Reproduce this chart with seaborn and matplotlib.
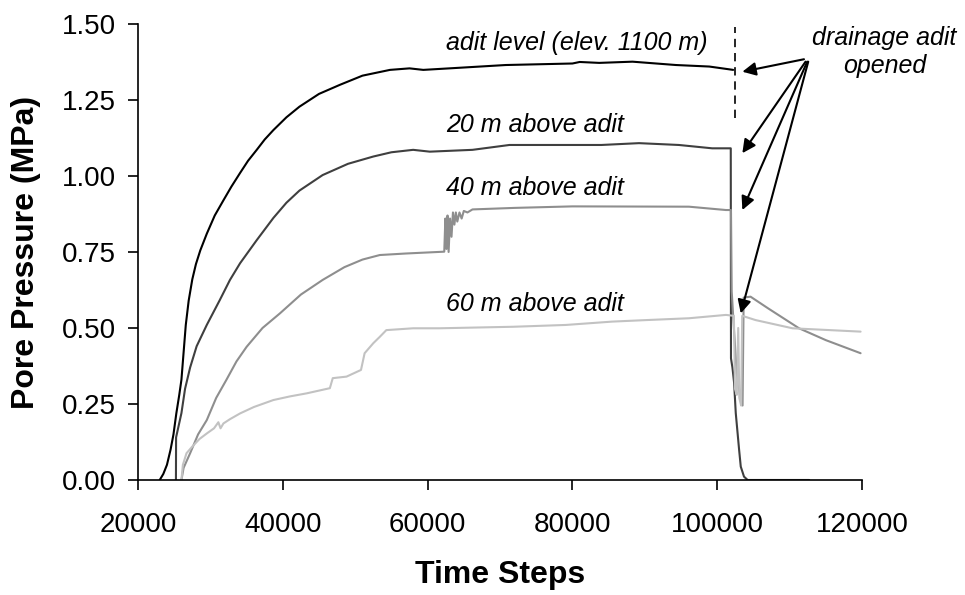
import numpy as np
import pandas as pd
import matplotlib
matplotlib.use('Agg')
import matplotlib.pyplot as plt
import seaborn as sns

# --- data ---
adit_x = [23000, 23500, 24000, 24500, 24900, 25300, 25700, 26000, 26300, 26600,
          27000, 27500, 28000, 28600, 29500, 30600, 31800, 32900, 34100, 35200,
          36400, 37500, 38700, 40500, 42300, 45000, 47900, 51000, 54800, 57500,
          59400, 63000, 70800, 80000, 81000, 83700, 88300, 94300, 98900, 102200]
adit_y = [0.00, 0.02, 0.05, 0.10, 0.15, 0.22, 0.28, 0.33, 0.42, 0.51,
          0.59, 0.66, 0.71, 0.755, 0.81, 0.87, 0.92, 0.965, 1.01, 1.05,
          1.086, 1.12, 1.151, 1.193, 1.228, 1.27, 1.30, 1.33, 1.349, 1.354,
          1.349, 1.354, 1.365, 1.37, 1.375, 1.372, 1.376, 1.365, 1.36, 1.349]

m20_x = [25240, 25260, 26000, 26500, 27200, 28100, 29500, 31300, 32700, 34100,
         36400, 38700, 40500, 42300, 45500, 49000, 52500, 55000, 58000, 60300,
         66200, 71300, 84000, 89200, 94700, 99300, 101870, 101900, 102100, 102330,
         102560, 102790, 103020, 103250, 103700, 104200, 112700]
m20_y = [0.00, 0.14, 0.22, 0.30, 0.37, 0.44, 0.51, 0.592, 0.658, 0.713,
         0.789, 0.862, 0.912, 0.952, 1.003, 1.04, 1.064, 1.078, 1.086, 1.080,
         1.086, 1.102, 1.102, 1.108, 1.102, 1.091, 1.091, 0.40, 0.37, 0.32,
         0.22, 0.16, 0.10, 0.044, 0.011, 0.00, 0.00]

m40_x = [26000, 26300, 27200, 28300, 29500, 30800, 32200, 33600, 35000, 37200,
         39600, 42500, 45500, 48500, 51000, 53400, 57000, 62300, 62450, 62600,
         62750, 62900, 63100, 63300, 63500, 63700, 63900, 64100, 64400, 64700,
         65000, 65500, 66200, 72000, 80000, 96100, 101200, 101900, 102000, 102300,
         102700, 103200, 103500, 103650, 104600, 107000, 111300, 115000, 119800]
m40_y = [0.00, 0.04, 0.088, 0.15, 0.197, 0.27, 0.329, 0.39, 0.438, 0.50,
         0.548, 0.61, 0.658, 0.70, 0.725, 0.74, 0.745, 0.751, 0.86, 0.76,
         0.87, 0.75, 0.86, 0.80, 0.88, 0.84, 0.88, 0.85, 0.88, 0.86,
         0.885, 0.88, 0.89, 0.895, 0.90, 0.899, 0.888, 0.888, 0.62, 0.50,
         0.35, 0.27, 0.245, 0.60, 0.603, 0.565, 0.499, 0.46, 0.417]

m60_x = [26000, 26200, 26700, 27500, 28500, 29500, 30500, 31100, 31400, 31800,
         32700, 34100, 36000, 38700, 41000, 43300, 46500, 46900, 48800, 50800,
         51300, 52500, 53400, 54300, 58000, 61600, 71800, 79100, 85500, 90200,
         96100, 101200, 102300, 102450, 102700, 102900, 103050, 103300, 103450, 105300,
         110400, 119800]
m60_y = [0.00, 0.05, 0.088, 0.11, 0.135, 0.153, 0.17, 0.19, 0.17, 0.186,
         0.20, 0.219, 0.24, 0.263, 0.275, 0.285, 0.302, 0.335, 0.34, 0.362,
         0.417, 0.45, 0.471, 0.493, 0.499, 0.499, 0.504, 0.51, 0.521, 0.526,
         0.532, 0.543, 0.54, 0.30, 0.28, 0.50, 0.27, 0.245, 0.54, 0.526,
         0.499, 0.488]

series_names = ['adit level (elev. 1100 m)', '20 m above adit',
                '40 m above adit', '60 m above adit']
label_y = [1.414, 1.146, 0.9375, 0.557]
label_x = 62570

adit_open_step = 102460
dash_range = [1.19, 1.49]

note_text = 'drainage adit\nopened'
note_xy = (123080, 1.338)
arrow_tail = [(111980, 1.384), (112200, 1.376), (112430, 1.376), (112570, 1.376)]
arrow_head = [(103470, 1.343), (103470, 1.075), (103470, 0.888), (103250, 0.548)]

x_ticks = [20000, 40000, 60000, 80000, 100000, 120000]
y_ticks = [0.00, 0.25, 0.50, 0.75, 1.00, 1.25, 1.50]


def main():
    sns.set_style('ticks')
    plt.rcParams['font.family'] = ['Liberation Sans', 'DejaVu Sans']
    for key in ['text.color', 'axes.labelcolor', 'xtick.color', 'ytick.color']:
        plt.rcParams[key] = 'black'

    df = pd.concat([
        pd.DataFrame({'step': x, 'pressure': y, 'series': name})
        for name, x, y in zip(series_names,
                              [adit_x, m20_x, m40_x, m60_x],
                              [adit_y, m20_y, m40_y, m60_y])
    ], ignore_index=True)
    palette = dict(zip(series_names, ['#000000', '#3f3f3f', '#8e8e8e', '#c2c2c2']))

    fig = plt.figure(figsize=(9.65, 5.95), dpi=100)
    ax = fig.add_axes([0.1430, 0.1933, 0.7503, 0.7664])
    sns.lineplot(data=df, x='step', y='pressure', hue='series', palette=palette,
                 estimator=None, sort=False, legend=False, linewidth=1.5, ax=ax)

    ax.vlines(adit_open_step, *dash_range, colors='black', linewidth=1.2,
              linestyles=(0, (5, 3.5)))

    for name, y in zip(series_names, label_y):
        ax.text(label_x, y, name, fontsize=18, style='italic', va='baseline', ha='left')

    ax.text(*note_xy, note_text, fontsize=18, style='italic', ha='center',
            va='baseline', linespacing=1.2, clip_on=False)
    for tail, head in zip(arrow_tail, arrow_head):
        ax.annotate('', xy=head, xytext=tail, annotation_clip=False,
                    arrowprops=dict(arrowstyle='-|>', color='black', lw=1.5,
                                    mutation_scale=20, shrinkA=0, shrinkB=0))

    ax.set_xlim(20000, 120000)
    ax.set_ylim(0, 1.5)
    ax.set_xticks(x_ticks)
    ax.set_yticks(y_ticks)
    ax.set_yticklabels([f'{v:.2f}' for v in y_ticks])
    ax.tick_params(axis='both', labelsize=20, length=7, width=1.2, color='black')
    ax.tick_params(axis='x', pad=16)
    ax.tick_params(axis='y', pad=9)
    for s in ['left', 'bottom']:
        ax.spines[s].set_linewidth(1.2)
        ax.spines[s].set_color('black')
    sns.despine(ax=ax)

    ax.set_xlabel('Time Steps', fontsize=23, fontweight='bold', labelpad=16)
    ax.set_ylabel('Pore Pressure (MPa)', fontsize=23, fontweight='bold', labelpad=15)

    fig.savefig('out.png', dpi=100)
    plt.close(fig)


if __name__ == '__main__':
    main()
